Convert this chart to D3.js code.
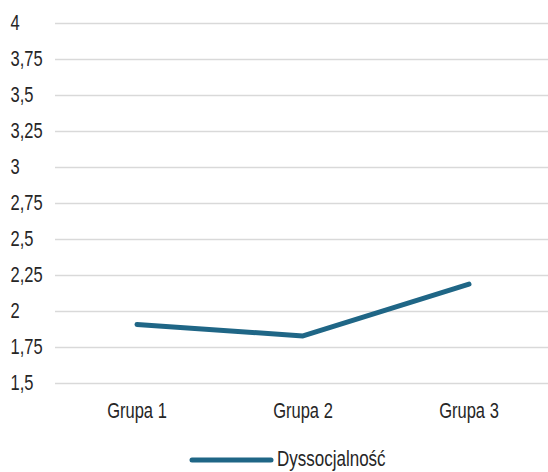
<!DOCTYPE html>
<html>
<head>
<meta charset="utf-8">
<script src="https://cdn.jsdelivr.net/npm/d3@7"></script>
<style>
  html, body { margin: 0; padding: 0; background: #ffffff; }
  svg text { font-family: "Liberation Sans", Arial, sans-serif; fill: #262626; }
</style>
</head>
<body>
<svg id="chart" width="548" height="472"></svg>
<script>
const categories = ["Grupa 1", "Grupa 2", "Grupa 3"];
const seriesName = "Dyssocjalność";
const values = [1.91, 1.83, 2.19];
const yTicks = [1.5, 1.75, 2, 2.25, 2.5, 2.75, 3, 3.25, 3.5, 3.75, 4];

const W = 548, H = 472;
const plot = { left: 54, right: 552, top: 23.5, bottom: 383.5 };
const lineColor = "#1f6686";
const stretch = 1.3; // labels are drawn slightly tall

const svg = d3.select("#chart");

const x = d3.scaleBand().domain(categories).range([plot.left, plot.right]);
const y = d3.scaleLinear().domain([1.5, 4]).range([plot.bottom, plot.top]);
const fmt = v => String(v).replace(".", ",");

// horizontal gridlines
svg.append("g").selectAll("line").data(yTicks).join("line")
  .attr("x1", 55).attr("x2", W)
  .attr("y1", d => y(d)).attr("y2", d => y(d))
  .attr("stroke", "#d9d9d9").attr("stroke-width", 1.5);

// y tick labels
svg.append("g").selectAll("text").data(yTicks).join("text")
  .attr("transform", d => `translate(10.5,${y(d) + 6}) scale(1,${stretch})`)
  .attr("font-size", 16.5)
  .text(fmt);

// x category labels
svg.append("g").selectAll("text").data(categories).join("text")
  .attr("transform", d => `translate(${x(d) + x.bandwidth() / 2},418) scale(1,${stretch})`)
  .attr("text-anchor", "middle")
  .attr("font-size", 16.5)
  .text(d => d);

// series line
const line = d3.line()
  .x((d, i) => x(categories[i]) + x.bandwidth() / 2)
  .y(d => y(d));

svg.append("path").datum(values)
  .attr("d", line)
  .attr("fill", "none")
  .attr("stroke", lineColor)
  .attr("stroke-width", 5)
  .attr("stroke-linecap", "round")
  .attr("stroke-linejoin", "round");

// legend
const lg = svg.append("g");
lg.append("line")
  .attr("x1", 192).attr("x2", 271).attr("y1", 460).attr("y2", 460)
  .attr("stroke", lineColor).attr("stroke-width", 5).attr("stroke-linecap", "round");
lg.append("text")
  .attr("transform", `translate(277,466) scale(1,${stretch})`)
  .attr("font-size", 17)
  .text(seriesName);
</script>
</body>
</html>
